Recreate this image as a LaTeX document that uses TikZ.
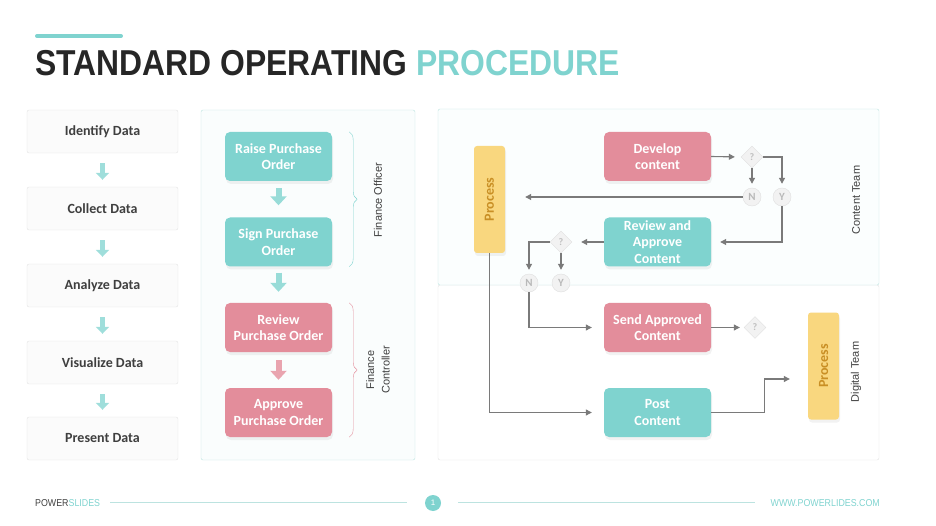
\documentclass[tikz,border=0pt]{standalone}
\usepackage{fontspec}
\setmainfont{Carlito}
\newfontfamily\titlefont[FakeStretch=0.885]{Liberation Sans}
\newfontfamily\labelfont{Liberation Sans}
\usetikzlibrary{arrows.meta,shapes.geometric,decorations.pathreplacing,shadows}

\definecolor{sopteal}{HTML}{7FD3CF}
\definecolor{soppink}{HTML}{E38D9B}
\definecolor{sopyellow}{HTML}{F9D77F}
\definecolor{sopgold}{HTML}{C98F25}
\definecolor{soptext}{HTML}{3F3F3F}
\definecolor{sopline}{HTML}{7A7A7A}
\definecolor{sopframe}{HTML}{BCE3E0}
\definecolor{sopgray}{HTML}{E2E2E2}

\tikzset{
  stepbox/.style={draw=sopgray, fill=gray!3, rounded corners=2pt, inner sep=0pt,
    minimum width=151pt, minimum height=43pt, text=soptext,
    font=\bfseries\fontsize{14}{16}\selectfont},
  taskbox/.style={rounded corners=5pt, inner sep=0pt, minimum width=107pt,
    minimum height=49pt, align=center, text=white,
    font=\bfseries\fontsize{14}{16.5}\selectfont,
    drop shadow={shadow xshift=1pt, shadow yshift=-3pt, opacity=0.10}},
  tealtask/.style={taskbox, fill=sopteal},
  pinktask/.style={taskbox, fill=soppink},
  procbox/.style={fill=sopyellow, rounded corners=3pt, inner sep=0pt,
    minimum width=31pt, minimum height=107pt, text=sopgold,
    font=\bfseries\fontsize{14}{16}\selectfont,
    drop shadow={shadow xshift=1pt, shadow yshift=-3pt, opacity=0.10}},
  query/.style={diamond, draw=gray!25, fill=gray!10, inner sep=0pt,
    minimum width=22pt, minimum height=22pt, text=gray!50,
    font=\bfseries\fontsize{10}{10}\selectfont},
  answer/.style={circle, draw=gray!25, fill=gray!10, inner sep=0pt,
    minimum size=18pt, text=gray!55, font=\bfseries\fontsize{11}{11}\selectfont},
  flow/.style={draw=sopline, line width=1.1pt,
    -{Triangle[length=6pt,width=6pt]}, shorten >=4pt},
  blockarrow/.style={line width=5pt, -{Triangle[length=7pt,width=13pt]}},
  sidelabel/.style={rotate=90, text=soptext, align=center,
    font=\labelfont\fontsize{11}{15.5}\selectfont}
}

\begin{document}
\begin{tikzpicture}[x=1pt,y=-1pt]
  \useasboundingbox (0,0) rectangle (936,526);

  % Titulo
  \draw[sopteal, line width=4pt, line cap=round] (37,36) -- (121,36);
  \node[anchor=base west, inner sep=0pt, font=\titlefont\bfseries\fontsize{36}{40}\selectfont,
    text=black!85] (title) at (35,76) {STANDARD OPERATING \textcolor{sopteal}{PROCEDURE}};

  % Columna izquierda (pasos de datos)
  \foreach \name/\y/\txt in {identify/131.5/Identify Data, collect/208.5/Collect Data,
      analyze/285.5/Analyze Data, visualize/362.5/Visualize Data, present/438.5/Present Data}
    \node[stepbox] (\name) at (102.5,\y) {\txt};
  \foreach \a/\b in {identify/collect, collect/analyze, analyze/visualize, visualize/present}
    \draw[blockarrow, sopteal!75, shorten <=10pt, shorten >=7pt] (\a) -- (\b);

  % Panel central (orden de compra)
  \draw[sopframe, fill=sopteal!4, rounded corners=2pt] (201,110) rectangle (415,460);
  \node[tealtask] (raise) at (278.5,156.5) {Raise Purchase\\Order};
  \node[tealtask] (sign) at (278.5,242) {Sign Purchase\\Order};
  \node[pinktask] (review) at (278.5,327.5) {Review\\Purchase Order};
  \node[pinktask] (approve) at (278.5,412.5) {Approve\\Purchase Order};
  \draw[line width=6pt, -{Triangle[length=9pt,width=16pt]}, sopteal!80,
    shorten <=7pt, shorten >=12pt] (raise) -- (sign);
  \draw[line width=6pt, -{Triangle[length=9pt,width=16pt]}, sopteal!80,
    shorten <=6pt, shorten >=11pt] (sign) -- (review);
  \draw[line width=6pt, -{Triangle[length=9pt,width=16pt]}, soppink!80,
    shorten <=8pt, shorten >=8pt] (review) -- (approve);

  % Llaves de responsables
  \draw[sopteal, thin, decorate, decoration={brace, amplitude=8pt}]
    ([xshift=17pt]raise.north east) -- ([xshift=17pt]sign.south east);
  \draw[soppink, thin, decorate, decoration={brace, amplitude=8pt}]
    ([xshift=17pt]review.north east) -- ([xshift=17pt]approve.south east);
  \node[sidelabel] (officer) at (378,200) {Finance Officer};
  \node[sidelabel] (controller) at (378,370) {Finance\\Controller};

  % Panel derecho (equipos)
  \draw[sopgray, fill=white, rounded corners=2pt] (438,285) rectangle (879,460);
  \draw[sopframe, fill=sopteal!3, rounded corners=2pt] (438,109) rectangle (879,285);
  \node[sidelabel] (content) at (856,200) {Content Team};
  \node[sidelabel] (digital) at (856,372) {Digital Team};

  \node[procbox] (proc1) at (489.5,199.5) {\rotatebox{90}{Process}};
  \node[procbox] (proc2) at (823.5,366) {\rotatebox{90}{Process}};
  \node[pinktask] (develop) at (657.5,156.5) {Develop\\content};
  \node[tealtask] (reviewc) at (657.5,242) {Review and\\Approve\\Content};
  \node[pinktask] (send) at (657.5,327.5) {Send Approved\\Content};
  \node[tealtask] (post) at (657.5,412.5) {Post\\Content};

  % Decisiones
  \node[query] (q1) at (752,157) {?};
  \node[answer] (n1) at (752,197) {N};
  \node[answer] (y1) at (782,197) {Y};
  \node[query] (q2) at (561,242) {?};
  \node[answer] (n2) at (529,283) {N};
  \node[answer] (y2) at (561,283) {Y};
  \node[query] (q3) at (755,327.5) {?};

  % Flujo
  \draw[flow, shorten >=6pt] (develop.east) -- (q1.west);
  \draw[flow] (q1.south) -- (n1.north);
  \draw[flow] (q1.east) -| (y1.north);
  \draw[flow, shorten >=20pt] (n1.west) -- (n1.west -| proc1.east);
  \draw[flow, shorten >=9pt] (y1.south) |- (reviewc.east);
  \draw[flow, shorten >=9pt] (reviewc.west) -- (q2.east);
  \draw[flow] (q2.west) -| (n2.north);
  \draw[flow] (q2.south) -- (y2.north);
  \draw[flow, shorten >=12pt] (n2.south) |- (send.west);
  \draw[flow] (send.east) -- (q3.west);
  \draw[flow, shorten >=12pt] (proc1.south) |- (post.west);
  \draw[flow, shorten >=18pt] (post.east) -- ++(53,0) |- ([yshift=-13pt]proc2.west);

  % Pie de pagina
  \node[anchor=base west, inner sep=0pt, font=\titlefont\fontsize{10}{12}\selectfont,
    text=soptext] (brand) at (35,506) {POWER\textcolor{sopteal}{SLIDES}};
  \node[circle, fill=sopteal, inner sep=0pt, minimum size=16pt, text=white,
    font=\labelfont\fontsize{8}{8}\selectfont] (page) at (433,503) {1};
  \node[anchor=base east, inner sep=0pt, font=\titlefont\fontsize{10}{12}\selectfont,
    text=sopteal] (site) at (880,506) {WWW.POWERLIDES.COM};
  \draw[sopframe, line width=0.8pt] (110,502) -- (407,502);
  \draw[sopframe, line width=0.8pt] (458,502) -- (755,502);
\end{tikzpicture}
\end{document}
